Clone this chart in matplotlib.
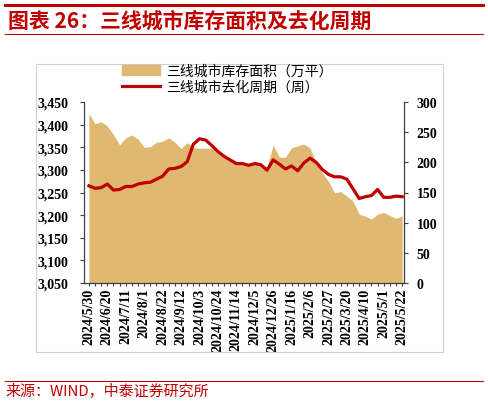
import numpy as np
import matplotlib
matplotlib.use('Agg')
import matplotlib.pyplot as plt
from matplotlib.lines import Line2D
from matplotlib.patches import Patch, Rectangle
from matplotlib.ticker import FuncFormatter

plt.rcParams['font.family'] = ['Noto Sans CJK SC', 'DejaVu Sans']

# Weekly data, 2024/5/30 - 2025/5/22
tick_labels = ['2024/5/30', '2024/6/20', '2024/7/11', '2024/8/1', '2024/8/22',
               '2024/9/12', '2024/10/3', '2024/10/24', '2024/11/14', '2024/12/5',
               '2024/12/26', '2025/1/16', '2025/2/6', '2025/2/27', '2025/3/20',
               '2025/4/10', '2025/5/1', '2025/5/22']

# 三线城市库存面积（万平）
inventory = [3424, 3402, 3406, 3397, 3378, 3355, 3371, 3377, 3368, 3350,
             3351, 3361, 3363, 3371, 3361, 3347, 3360, 3349, 3348, 3348,
             3348, 3342, 3332, 3321, 3317, 3315, 3311, 3313, 3311, 3306,
             3355, 3328, 3328, 3349, 3353, 3357, 3348, 3316, 3293, 3275,
             3249, 3252, 3242, 3231, 3202, 3198, 3191, 3202, 3206, 3199,
             3193, 3198]

# 三线城市去化周期（周）
cycle = [161, 157, 158, 164, 154, 155, 160, 160, 164, 166,
         167, 172, 177, 189, 190, 193, 201, 230, 239, 237,
         228, 218, 210, 204, 198, 198, 195, 198, 196, 187,
         204, 197, 189, 194, 186, 199, 207, 200, 188, 180,
         176, 176, 172, 156, 140, 143, 145, 155, 142, 142,
         144, 143]

W, H = 488, 406
fig = plt.figure(figsize=(W / 100, H / 100), dpi=100)

red = '#C00000'
beige = '#DFB871'
serif = {'family': 'Liberation Serif', 'weight': 'bold', 'size': 10}

# header / footer decoration
fig.add_artist(Line2D([5 / W, 483 / W], [1 - 6 / H, 1 - 6 / H], color=red, lw=2.2))
fig.add_artist(Line2D([5 / W, 483 / W], [1 - 35 / H, 1 - 35 / H], color=red, lw=0.8))
fig.add_artist(Line2D([5 / W, 483 / W], [1 - 381.5 / H, 1 - 381.5 / H], color=red, lw=0.8))
fig.add_artist(Rectangle((36 / W, 1 - 353 / H), 407 / W, 288 / H, fill=False,
                         edgecolor='#D0D0D0', lw=0.8))
fig.text(8 / W, 1 - 21 / H, '图表 26：三线城市库存面积及去化周期', color=red,
         fontsize=15, fontweight='bold', va='center', ha='left')
fig.text(5 / W, 1 - 391 / H, '来源：WIND，中泰证券研究所', color=red,
         fontsize=10.8, va='center', ha='left')

ax = fig.add_axes([84 / W, 1 - 284 / H, 320 / W, 181 / H])
ax2 = ax.twinx()

x = np.arange(len(inventory))
ax.fill_between(x, 3050, inventory, color=beige, linewidth=0)
ax2.plot(x, cycle, color=red, lw=2.3)

ax.set_xlim(-0.8, len(x) - 1 + 0.3)
ax.set_ylim(3050, 3450)
ax.set_yticks(np.arange(3050, 3451, 50))
ax.yaxis.set_major_formatter(FuncFormatter(lambda v, p: f'{v:,.0f}'))
ax2.set_ylim(0, 300)
ax2.set_yticks(np.arange(0, 301, 50))

labels = [''] * len(x)
for i, lab in enumerate(tick_labels):
    labels[i * 3] = lab
ax.set_xticks(x)
ax.set_xticklabels(labels, rotation=90, fontdict=serif)

for a in (ax, ax2):
    a.spines['top'].set_visible(False)
    for s in a.spines.values():
        s.set_color('#404040')
        s.set_linewidth(0.9)
ax.spines['right'].set_visible(False)
ax2.spines['left'].set_visible(False)
ax2.spines['bottom'].set_visible(False)

ax.tick_params(axis='x', length=2.5, width=0.8, pad=1, color='#404040')
ax.tick_params(axis='y', length=3, width=0.8, pad=8, color='#404040')
ax2.tick_params(axis='y', length=3, width=0.8, pad=6, color='#404040')
for lab in ax.get_yticklabels() + ax2.get_yticklabels():
    lab.set_fontproperties(serif)

handles = [Patch(color=beige), Line2D([], [], color=red, lw=2.3)]
fig.legend(handles, ['三线城市库存面积（万平）', '三线城市去化周期（周）'],
           loc='upper left', bbox_to_anchor=(122 / W, 1 - 65 / H),
           frameon=False, fontsize=10, handlelength=2.7, handletextpad=0.45,
           labelspacing=0.15, borderpad=0, borderaxespad=0)

fig.savefig('out.png', dpi=100)
